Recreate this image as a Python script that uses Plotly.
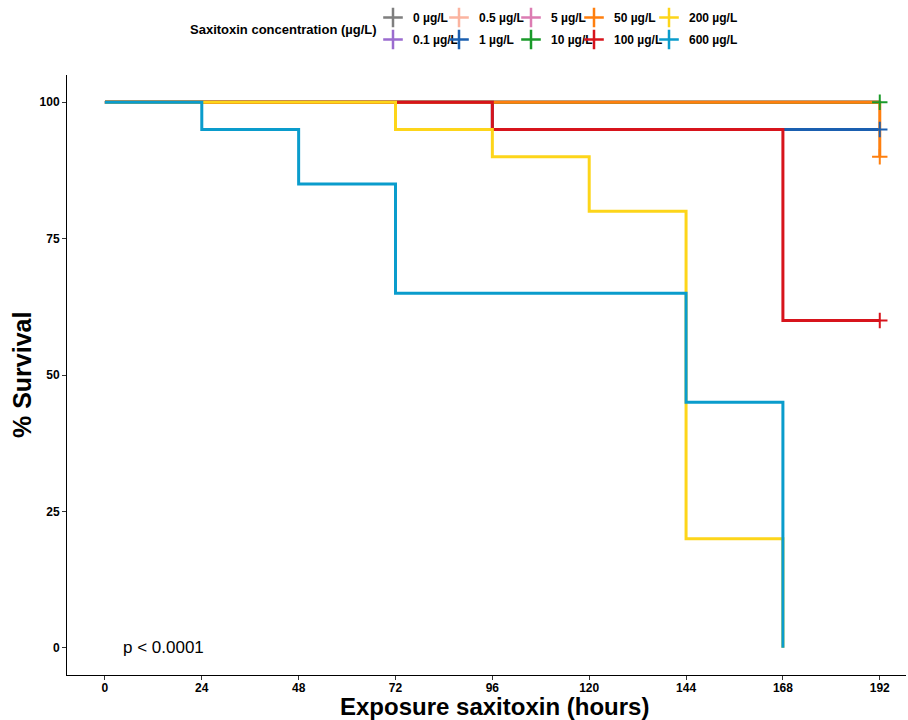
import plotly.graph_objects as go

# ---- data ----
conc_labels = ["0 µg/L", "0.1 µg/L", "0.5 µg/L", "1 µg/L", "5 µg/L",
               "10 µg/L", "50 µg/L", "100 µg/L", "200 µg/L", "600 µg/L"]
colors = ["#7f7f7f", "#9b6ccf", "#fbb4a0", "#1a5fb0", "#dc7cb2",
          "#1a9a2a", "#ff7f0e", "#d7141c", "#fdd51a", "#0a9ccc"]

times_0 = [0, 192];            surv_0 = [100, 100]
times_01 = [0, 192];           surv_01 = [100, 100]
times_05 = [0, 192];           surv_05 = [100, 100]
times_1 = [0, 96, 192];        surv_1 = [100, 95, 95]
times_5 = [0, 192];            surv_5 = [100, 100]
times_10 = [0, 192];           surv_10 = [100, 100]
times_50 = [0, 192];           surv_50 = [100, 90]
times_100 = [0, 96, 168, 192]; surv_100 = [100, 95, 60, 60]
times_200 = [0, 72, 96, 120, 144, 168]; surv_200 = [100, 95, 90, 80, 20, 0]
times_600 = [0, 24, 48, 72, 144, 168];  surv_600 = [100, 95, 85, 65, 45, 0]

all_times = [times_0, times_01, times_05, times_1, times_5,
             times_10, times_50, times_100, times_200, times_600]
all_surv = [surv_0, surv_01, surv_05, surv_1, surv_5,
            surv_10, surv_50, surv_100, surv_200, surv_600]

# censored observations (time, survival) per group
censor_idx = [5, 3, 6, 7]
censor_t = [192, 192, 192, 192]
censor_s = [100, 95, 90, 60]

x_ticks = [0, 24, 48, 72, 96, 120, 144, 168, 192]
y_ticks = [0, 25, 50, 75, 100]

legend_title = "Saxitoxin concentration (µg/L)"
p_text = "p < 0.0001"

W, H = 908, 720
ML, MR, MT, MB = 67, 2, 75, 45
PW, PH = W - ML - MR, H - MT - MB


def px_x(px):
    return (px - ML) / PW


def px_y(py):
    return (H - MB - py) / PH


fig = go.Figure()

for i in range(len(conc_labels)):
    fig.add_trace(go.Scatter(
        x=all_times[i], y=all_surv[i], mode="lines",
        line=dict(color=colors[i], width=3, shape="hv"),
        showlegend=False, hoverinfo="skip"))

for k, i in enumerate(censor_idx):
    fig.add_trace(go.Scatter(
        x=[censor_t[k]], y=[censor_s[k]], mode="markers",
        marker=dict(symbol="cross-thin", size=11, color=colors[i],
                    line=dict(color=colors[i], width=2)),
        showlegend=False, hoverinfo="skip"))

# legend: 5 columns, 2 rows each (column-major like ggplot)
legend_names = ["legend", "legend2", "legend3", "legend4", "legend5"]
col_sym_x = [392, 458, 530, 593, 668]
for i in range(len(conc_labels)):
    col = i // 2
    fig.add_trace(go.Scatter(
        x=[None], y=[None], mode="markers", name=conc_labels[i],
        marker=dict(symbol="cross-thin", size=14, color=colors[i],
                    line=dict(color=colors[i], width=2.5)),
        legend=legend_names[col], legendgroup=conc_labels[i]))

legend_common = dict(orientation="v", xref="container", yref="container",
                     xanchor="left", yanchor="top", itemwidth=30,
                     tracegroupgap=3, borderwidth=0, bgcolor="rgba(0,0,0,0)",
                     font=dict(size=12, color="black", weight="bold"))
layout_legends = {}
for c, name in enumerate(legend_names):
    layout_legends[name] = dict(legend_common, x=(col_sym_x[c] - 19) / W, y=1 - 3 / H)

fig.add_annotation(x=4, y=0, xref="x", yref="y", text=p_text,
                   showarrow=False, xanchor="left", yanchor="middle",
                   font=dict(size=17, color="black"))

fig.update_layout(
    width=W, height=H,
    margin=dict(l=ML, r=MR, t=MT, b=MB, autoexpand=False),
    paper_bgcolor="white", plot_bgcolor="white",
    font=dict(family="Liberation Sans, Arial", color="black"),
    showlegend=True,
    xaxis=dict(range=[-9.4, 198.5], tickvals=x_ticks, ticktext=[str(v) for v in x_ticks],
               showgrid=False, zeroline=False, showline=True, linecolor="black", linewidth=1,
               ticks="outside", ticklen=4, tickcolor="#333", tickwidth=1,
               ticklabelstandoff=-2,
               tickfont=dict(size=12, color="black", weight="bold")),
    yaxis=dict(range=[-5, 105], tickvals=y_ticks, ticktext=[str(v) for v in y_ticks],
               showgrid=False, zeroline=False, showline=True, linecolor="black", linewidth=1,
               ticks="outside", ticklen=4, tickcolor="#333", tickwidth=1,
               tickfont=dict(size=12, color="black", weight="bold")),
    **layout_legends,
)

fig.add_annotation(x=px_x(283), y=px_y(29), xref="paper", yref="paper",
                   text="<b>" + legend_title + "</b>", showarrow=False,
                   xanchor="center", yanchor="middle", font=dict(size=13, color="black"))
fig.add_annotation(x=px_x(494), y=px_y(707), xref="paper", yref="paper",
                   text="<b>Exposure saxitoxin (hours)</b>", showarrow=False,
                   xanchor="center", yanchor="middle", font=dict(size=24, color="black"))
fig.add_annotation(x=px_x(22), y=px_y(375), xref="paper", yref="paper",
                   text="<b>% Survival</b>", showarrow=False, textangle=-90,
                   xanchor="center", yanchor="middle", font=dict(size=25, color="black"))

fig.write_html("out.html", config={"displayModeBar": False},
               post_script="document.body.style.margin='0';")
